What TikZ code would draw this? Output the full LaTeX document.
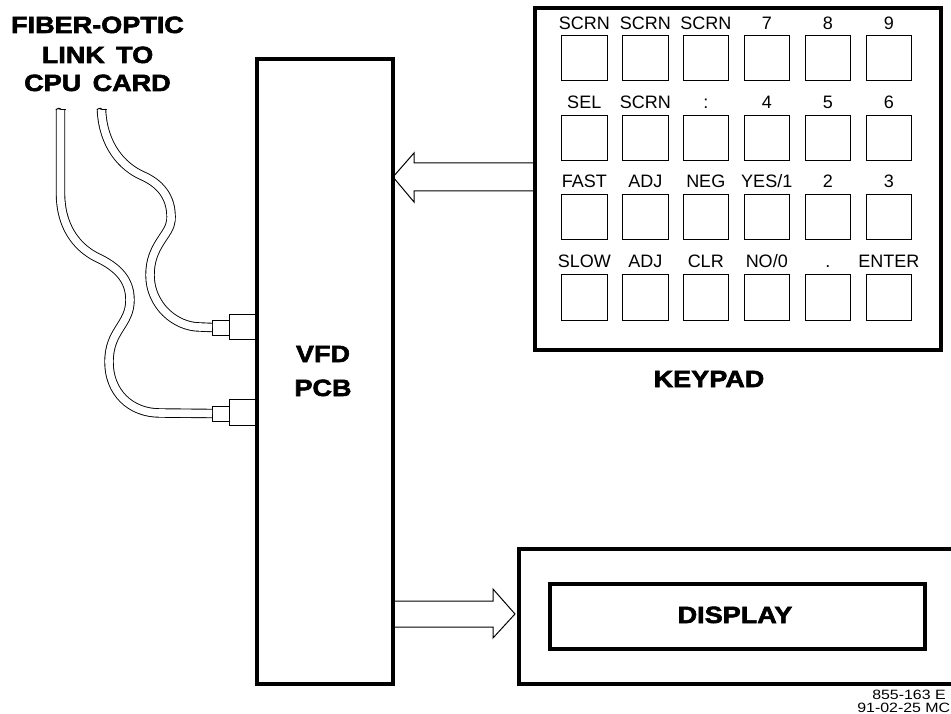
\documentclass[tikz,border=0pt]{standalone}
\usepackage{fontspec}
\setmainfont{Liberation Sans}
\newfontfamily\heavy[FakeStretch=1.15,FakeBold=2.5]{Liberation Sans Bold}
\begin{document}
\begin{tikzpicture}[x=1pt,y=-1pt,
  frame/.style={draw=black,line width=4pt,rectangle,inner sep=0pt,anchor=north west},
  keybox/.style={draw=black,line width=1pt,rectangle,inner sep=0pt,minimum width=45.5pt,minimum height=45.5pt,anchor=north west},
  plug/.style={draw=black,line width=1pt,rectangle,inner sep=0pt,anchor=north west},
  keylabel/.style={anchor=base,inner sep=0pt,font=\fontsize{18}{18}\selectfont},
  title/.style={anchor=base,inner sep=0pt,font=\heavy\fontsize{23.5}{24}\selectfont},
  stamp/.style={anchor=base east,inner sep=0pt,xscale=1.18,font=\fontsize{13.5}{14}\selectfont},
  fibre/.style={draw=black,line width=0.9pt,double=white,double distance=7.6pt,line cap=butt},
  block/.style={draw=black,line width=1pt,line join=miter}]
\useasboundingbox (0,0) rectangle (951,714);
\clip (0,0) rectangle (951,714);
% main boxes
\node[frame,minimum width=136pt,minimum height=625pt] (vfd) at (255,57) {};
\node[frame,minimum width=406pt,minimum height=341pt] (keypad) at (533,6.5) {};
\node[frame,minimum width=440pt,minimum height=135pt] (display) at (517,547) {};
\node[frame,minimum width=375pt,minimum height=65pt] (screen) at (548,582) {};
% keys
\foreach \n/\x in {1/561,2/622,3/682.5,4/743.5,5/804.5,6/865.5}{
  \foreach \r/\y in {1/35,2/115,3/194,4/274}{
    \node[keybox] (key\r\n) at (\x,\y) {};
  }
}
% key labels
\foreach \n/\t in {1/SCRN,2/SCRN,3/SCRN,4/7,5/8,6/9}{
  \node[keylabel] (lab1\n) at ([yshift=5pt]key1\n.north) {\t};}
\foreach \n/\t in {1/SEL,2/SCRN,3/:,4/4,5/5,6/6}{
  \node[keylabel] (lab2\n) at ([yshift=6.5pt]key2\n.north) {\t};}
\foreach \n/\t in {1/FAST,2/ADJ,3/NEG,4/{YES/1},5/2,6/3}{
  \node[keylabel] (lab3\n) at ([yshift=6pt]key3\n.north) {\t};}
\foreach \n/\t in {1/SLOW,2/ADJ,3/CLR,4/{NO/0},5/.,6/ENTER}{
  \node[keylabel] (lab4\n) at ([yshift=6pt]key4\n.north) {\t};}
% titles
\node[title] (t1) at (97.5,33) {FIBER-OPTIC};
\node[title] (t2) at (97.5,63) {LINK\, TO};
\node[title] (t3) at (97.5,91) {CPU\, CARD};
\node[title] (t4) at (323,362) {VFD};
\node[title] (t5) at (323,396) {PCB};
\node[title] (t6) at (709,387) {KEYPAD};
\node[title] (t7) at (735,623) {DISPLAY};
\node[stamp] (s1) at (946,699) {855-163 E};
\node[stamp] (s2) at (950.5,712.5) {91-02-25 MC};
% connectors on the PCB
\node[plug,minimum width=26pt,minimum height=25pt] (bigA) at (229,314) {};
\node[plug,minimum width=17pt,minimum height=15pt] (smallA) at (212,319.5) {};
\node[plug,minimum width=26pt,minimum height=26pt] (bigB) at (229,399) {};
\node[plug,minimum width=17pt,minimum height=15pt] (smallB) at (212,405.5) {};
% fibres
\coordinate (endA) at (101.5,110);
\coordinate (endB) at (60.5,110);
\draw[fibre] (endA) .. controls (103,145) and (122,167) .. (143,176)
  .. controls (163,185) and (172,200) .. (171,220)
  .. controls (170,235) and (150,245) .. (150,275)
  .. controls (150,305) and (175,327) .. (200,327) -- (smallA.west);
\draw[fibre] (endB) -- (60.5,195)
  .. controls (61,225) and (75,246) .. (96,257)
  .. controls (118,267) and (130,280) .. (130,300)
  .. controls (130,325) and (109,330) .. (109,362)
  .. controls (109,392) and (130,413) .. (160,413) -- (smallB.west);
% fibre cut ends
\draw[line width=0.9pt] ([xshift=-4.7pt]endA) .. controls ++(1,-2) and ++(2,-1) .. ([xshift=-1pt,yshift=1pt]endA) .. controls ++(1,1) and ++(2,-1) .. ([xshift=4.7pt]endA);
\draw[line width=0.9pt] ([xshift=-4.7pt]endB) .. controls ++(1,-2) and ++(2,-1) .. ([xshift=-1pt,yshift=1pt]endB) .. controls ++(1,1) and ++(2,-1) .. ([xshift=4.7pt]endB);
% block arrows
\coordinate (inA) at (keypad.west |- 0,163);
\coordinate (inB) at (keypad.west |- 0,191);
\coordinate (tipL) at (393,177);
\draw[block] (inA) -- (414,163) -- (414,153) -- (tipL) -- (414,202) -- (414,191) -- (inB);
\coordinate (outA) at (vfd.east |- 0,601);
\coordinate (outB) at (vfd.east |- 0,627);
\coordinate (tipR) at (515,614);
\draw[block] (outA) -- (493,601) -- (493,589) -- (tipR) -- (493,638) -- (493,627) -- (outB);
\end{tikzpicture}
\end{document}
